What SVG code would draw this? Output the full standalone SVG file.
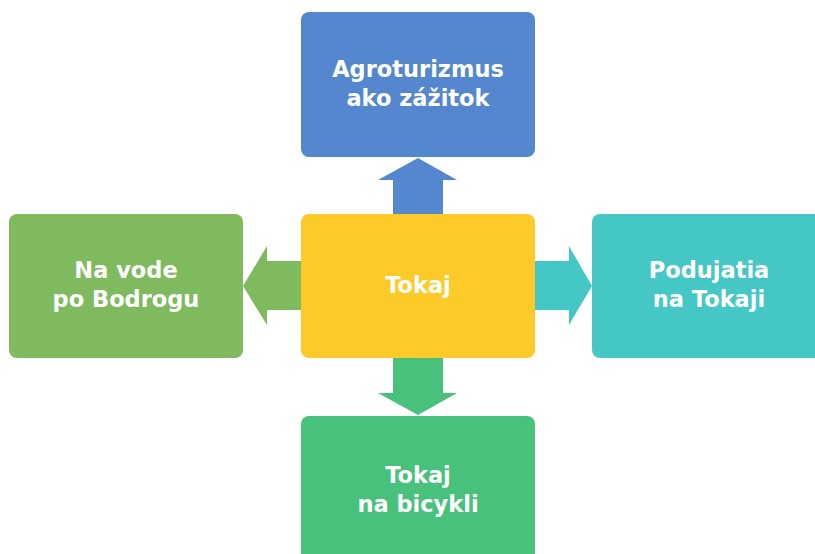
<svg xmlns="http://www.w3.org/2000/svg" width="815" height="554" viewBox="0 0 815 554">
<style>
.box{stroke:none}
.lbl{font-family:"DejaVu Sans","Liberation Sans",sans-serif;font-weight:bold;font-size:22.5px;fill:#ffffff;text-anchor:middle}
</style>
<rect width="815" height="554" fill="#ffffff"/>
<g id="connectors">
<path d="M393,214 V180 H378 L418,158 L457,180 H443 V214 Z" fill="#5487CD"/>
<path d="M301,261 H267 V246 L243,286 L267,325 V310 H301 Z" fill="#7FBA5F"/>
<path d="M535,261 H569 V246 L592,286 L569,325 V310 H535 Z" fill="#45C8C5"/>
<path d="M393,358 V393 H378 L418,415 L457,393 H443 V358 Z" fill="#48C17D"/>
</g>
<g id="node-top">
<rect class="box" x="301" y="12" width="234" height="145" rx="8" fill="#5487CD"/>
<text class="lbl" x="418" y="77">Agroturizmus</text>
<text class="lbl" x="418" y="106">ako zážitok</text>
</g>
<g id="node-left">
<rect class="box" x="9" y="214" width="234" height="144" rx="8" fill="#7FBA5F"/>
<text class="lbl" x="126" y="278">Na vode</text>
<text class="lbl" x="126" y="307">po Bodrogu</text>
</g>
<g id="node-center">
<rect class="box" x="301" y="214" width="234" height="144" rx="8" fill="#FDCA2A"/>
<text class="lbl" x="418" y="293">Tokaj</text>
</g>
<g id="node-right">
<rect class="box" x="592" y="214" width="234" height="144" rx="8" fill="#45C8C5"/>
<text class="lbl" x="709" y="278">Podujatia</text>
<text class="lbl" x="709" y="307">na Tokaji</text>
</g>
<g id="node-bottom">
<rect class="box" x="301" y="416" width="234" height="146" rx="8" fill="#48C17D"/>
<text class="lbl" x="418" y="483">Tokaj</text>
<text class="lbl" x="418" y="512">na bicykli</text>
</g>
</svg>
